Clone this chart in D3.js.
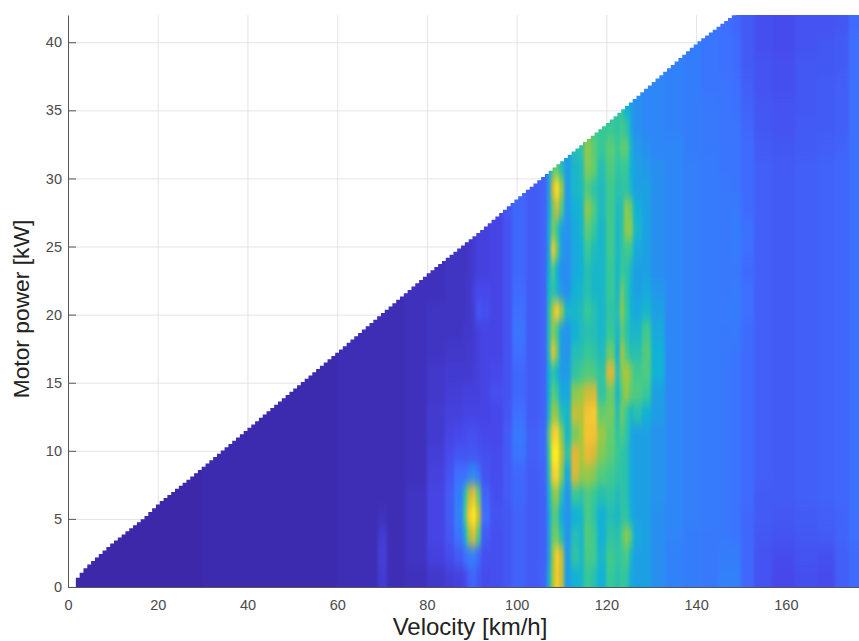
<!DOCTYPE html>
<html>
<head>
<meta charset="utf-8">
<script src="https://cdn.jsdelivr.net/npm/d3@7"></script>
<style>
  html, body { margin: 0; padding: 0; background: #fff; overflow: hidden; }
  text { font-family: "Liberation Sans", Arial, sans-serif; }
</style>
</head>
<body>
<script>
// velocity / power heat map (0-100 colour scale)

// cell edges
var velocityEdges = [0,30,50,60,67,69,71,75,80,84,86,88,89,90,91,92,94,97,99,102,105,106.7,107.7,108.5,109.5,110.5,112,114,115,116.5,118,120,122,123,124,125,126,128,130,133,137,141,145,148,150,153,157,162,167,171,174,177];
var powerEdges = [0,1.5,3,4.5,6,7.5,9,10.5,12,13.5,15,16.5,18,19.5,21,22.5,24,25.5,27,28.5,30,31.5,33,34.5,36,37.5,39,40.5,42];

// one list per velocity column, low power first
var heat = [
  [0,0,0,0,0,0,0, 0,0,0,0,0,0,0, 0,0,0,0,0,0,0, 0,0,0,0,0,0,0],
  [1,1,1,1,1,1,1, 1,1,1,1,1,1,1, 1,1,1,1,1,1,1, 1,1,1,1,1,1,1],
  [1,1,1,1,1,1,1, 1,1,1,1,1,1,1, 1,1,1,1,1,1,1, 1,1,1,1,1,1,1],
  [2,2,2,2,2,2,2, 2,2,2,2,2,2,2, 2,2,2,2,2,2,2, 2,2,2,2,2,2,2],
  [2,2,2,2,2,2,2, 2,2,2,2,2,2,2, 2,2,2,2,2,2,2, 2,2,2,2,2,2,2],
  [6,7,6,3,2,2,2, 2,2,2,2,2,2,2, 2,2,2,2,2,2,2, 2,2,2,2,2,2,2],
  [2,2,2,2,2,2,2, 2,2,2,2,2,2,2, 2,2,2,2,2,2,2, 2,2,2,2,2,2,2],
  [3,4,4,4,4,3,3, 3,3,3,3,3,3,3, 3,3,3,3,3,3,3, 3,3,3,3,3,3,3],
  [5,8,9,9,9,8,7, 6,6,5,5,4,4,4, 3,3,3,3,3,3,3, 3,3,3,3,3,3,3],
  [7,11,14,15,15,13,11, 9,8,7,6,5,4,4, 4,4,4,4,4,4,4, 4,4,4,4,4,4,4],
  [8,15,22,28,26,20,14, 10,8,7,6,5,4,4, 4,4,4,4,4,4,4, 4,4,4,4,4,4,4],
  [10,20,38,52,46,20,13, 11,9,8,6,5,5,4, 4,4,4,4,4,4,4, 4,4,4,4,4,4,4],
  [16,26,68,88,74,28,14, 12,9,8,6,6,5,5, 5,5,5,5,5,5,5, 5,5,5,5,5,5,5],
  [18,28,82,97,85,32,14, 12,9,8,7,6,6,7, 8,6,6,6,6,6,6, 6,6,6,6,6,6,6],
  [14,18,54,74,58,22,13, 11,9,8,8,8,8,14, 10,8,8,8,8,8,8, 8,8,8,8,8,8,8],
  [11,12,15,20,17,13,12, 10,9,9,9,9,9,12, 10,8,8,8,8,8,8, 8,8,8,8,8,8,8],
  [12,12,12,13,12,11,11, 10,10,12,10,9,9,9, 9,9,9,9,9,9,9, 9,9,9,9,9,9,9],
  [14,14,14,14,15,15,15, 15,14,13,13,13,13,13, 13,13,13,13,14,14,14, 14,14,14,14,14,14,14],
  [17,17,17,17,18,18,22, 24,20,18,18,20,22,20, 19,18,18,18,18,18,18, 18,18,18,18,18,18,18],
  [15,15,15,15,15,15,16, 16,15,15,15,15,15,15, 15,15,15,15,15,15,15, 15,15,15,15,15,15,15],
  [17,16,16,16,16,17,18, 18,17,17,17,17,17,17, 17,17,17,17,17,17,17, 17,17,17,17,17,17,17],
  [40,36,35,36,40,45,50, 55,42,40,40,45,45,45, 42,40,38,38,36,36,36, 36,36,36,36,36,36,36],
  [70,68,60,55,62,88,96, 88,68,58,48,85,65,72, 48,55,88,62,60,78,55, 45,45,45,45,45,45,45],
  [88,90,62,55,68,92,98, 92,65,50,42,62,52,90, 42,40,62,50,78,94,60, 45,45,45,45,45,45,45],
  [75,75,45,38,45,65,75, 65,45,38,35,35,36,68, 34,32,36,36,55,68,45, 40,40,40,40,40,40,40],
  [35,35,33,33,33,38,48, 42,42,38,35,33,33,42, 32,32,32,33,34,35,35, 35,35,35,35,35,35,35],
  [40,48,45,40,50,78,80, 62,74,65,48,45,40,42, 40,38,38,38,40,42,42, 45,45,45,45,45,45,45],
  [42,42,42,42,48,66,70, 70,72,68,52,46,44,44, 42,40,40,42,42,44,45, 48,48,48,48,48,48,48],
  [50,54,56,54,55,68,82, 86,86,76,56,50,46,50, 46,46,50,58,66,55,64, 66,58,58,58,58,58,58],
  [46,52,52,48,50,64,78, 85,88,78,54,48,45,46, 42,42,44,50,55,48,60, 58,52,52,52,52,52,52],
  [40,42,40,40,46,56,64, 68,60,48,48,44,42,42, 42,42,42,42,44,44,46, 50,50,50,50,50,50,50],
  [50,52,48,45,48,52,58, 60,62,60,78,60,50,48, 50,50,52,52,52,52,55, 58,50,50,50,50,50,50],
  [46,48,46,42,44,48,50, 48,45,42,45,40,42,45, 42,42,42,42,44,46,48, 50,48,48,48,48,48,48],
  [50,50,54,48,48,48,48, 56,62,58,65,70,58,66, 62,50,48,48,46,48,50, 58,52,48,48,48,48,48],
  [48,54,66,48,46,46,46, 48,50,68,70,54,48,50, 48,48,52,66,66,48,50, 58,48,40,40,40,40,40],
  [38,42,55,40,38,38,38, 38,42,58,62,45,42,40, 40,42,50,65,60,42,40, 42,38,36,36,36,36,36],
  [36,36,38,36,36,36,36, 36,46,55,52,46,42,38, 36,36,38,42,40,36,36, 34,32,32,32,32,32,32],
  [36,36,36,36,36,36,36, 36,40,50,55,56,52,42, 38,36,36,36,36,36,34, 32,30,30,30,30,30,30],
  [32,32,32,32,33,33,33, 33,35,36,40,40,38,36, 34,32,32,32,32,32,32, 30,30,30,30,30,30,30],
  [28,28,29,30,30,30,30, 30,30,30,30,30,30,30, 30,30,30,30,30,30,30, 30,28,28,28,28,28,28],
  [26,26,26,27,27,27,27, 27,27,27,27,27,27,27, 27,27,27,27,27,27,27, 26,26,26,26,26,26,26],
  [24,24,24,25,25,25,25, 25,25,25,25,25,25,25, 25,25,25,25,25,25,25, 24,24,24,23,23,23,23],
  [28,26,24,24,24,24,24, 24,24,24,24,24,24,25, 24,24,24,24,24,24,23, 23,22,22,22,21,21,20],
  [27,26,23,22,22,22,22, 22,22,22,22,23,25,26, 25,24,25,26,25,23,22, 22,22,21,20,19,19,18],
  [18,18,18,18,19,19,19, 19,19,19,19,19,19,20, 20,19,20,21,19,19,19, 19,18,17,16,15,15,15],
  [13,13,14,15,15,16,16, 16,16,16,16,16,16,16, 16,16,16,16,16,16,16, 15,14,14,13,13,12,12],
  [10,11,13,14,15,15,15, 15,15,15,15,15,15,15, 15,15,15,15,15,15,15, 14,13,13,12,12,11,11],
  [12,13,14,15,16,16,16, 16,16,16,16,16,16,16, 16,16,16,16,16,16,16, 15,15,14,14,14,13,13],
  [11,12,15,16,17,17,17, 17,17,17,17,17,17,17, 17,17,17,17,17,17,17, 16,15,15,15,14,14,13],
  [16,16,17,17,18,18,18, 18,18,18,18,18,18,18, 18,18,18,18,18,18,18, 17,16,16,16,15,15,14],
  [19,19,20,21,21,21,21, 21,21,21,21,21,21,21, 21,21,21,21,21,21,21, 21,21,21,21,20,20,19]
];

// upper edge of the filled area, read at a few places
var limitV = [0.9,1.6,2.2,3.8,9.4,16.7,20,26.5,60.6,80.2,91.8,100,120,140,148,177];
var limitP = [0,0.6,0.9,1.5,3.2,5.1,6.2,7.9,17.5,23.1,26.2,28.6,34.1,40,42,42];

var xTicks = [0,20,40,60,80,100,120,140,160];
var yTicks = [0,5,10,15,20,25,30,35,40];

var width = 859, height = 641;

var x = d3.scaleLinear().domain([0, 176.3]).range([68, 859]);
var y = d3.scaleLinear().domain([0, 42]).range([587, 15]);

// parula stops
var color = d3.scaleLinear()
  .domain([0,10,20,30,40,50,60,70,80,90,100])
  .range(['#3c28a8','#4747eb','#3e6fff','#2e87f7','#12b1d6','#37c897','#66cc6b','#abc739','#e6b537','#fccf30','#f9fb15']);

var svg = d3.select('body').append('svg')
  .attr('width', width)
  .attr('height', height)
  .style('display', 'block');

var defs = svg.append('defs');

var blur = defs.append('filter')
  .attr('id', 'soft')
  .attr('filterUnits', 'userSpaceOnUse')
  .attr('x', -40).attr('y', -40)
  .attr('width', width + 80).attr('height', height + 80)
  .attr('color-interpolation-filters', 'sRGB');
blur.append('feGaussianBlur').attr('stdDeviation', '1.6 6');

// stepped edge of the data grid
var limit = d3.scaleLinear().domain(limitV).range(limitP);
var stepV = d3.range(0.9, 177.5, 0.85);
var edge = d3.line()
  .x(function(d) { return x(d); })
  .y(function(d) { return y(limit(d)); })
  .curve(d3.curveStepAfter);

defs.append('clipPath').attr('id', 'mask')
  .append('path')
  .attr('d', edge(stepV) + 'L' + x(177.5) + ',' + y(0) + 'L' + x(0.9) + ',' + y(0) + 'Z');

// grid
svg.append('g').attr('class', 'grid')
  .selectAll('line.v')
  .data(xTicks.slice(1))
  .enter().append('line')
  .attr('x1', function(d) { return x(d) + 0.5; })
  .attr('x2', function(d) { return x(d) + 0.5; })
  .attr('y1', y(42))
  .attr('y2', y(0))
  .attr('stroke', '#e4e4e4');

svg.select('.grid')
  .selectAll('line.h')
  .data(yTicks.slice(1))
  .enter().append('line')
  .attr('x1', x(0))
  .attr('x2', 859)
  .attr('y1', function(d) { return y(d) + 0.5; })
  .attr('y2', function(d) { return y(d) + 0.5; })
  .attr('stroke', '#e4e4e4');

// axes
var xAxis = d3.axisBottom(x).tickValues(xTicks).tickSizeInner(-8).tickSizeOuter(0).tickPadding(13);
var yAxis = d3.axisLeft(y).tickValues(yTicks).tickSizeInner(-8).tickSizeOuter(0).tickPadding(6);

var gx = svg.append('g')
  .attr('transform', 'translate(0,587)')
  .call(xAxis);
var gy = svg.append('g')
  .attr('transform', 'translate(68,0)')
  .call(yAxis);

[gx, gy].forEach(function(g) {
  g.selectAll('path, line').attr('stroke', '#555');
  g.selectAll('text')
    .attr('fill', '#4a4a4a')
    .style('font-size', '14.5px')
    .style('font-family', '"Liberation Sans", Arial, sans-serif');
});

// cells
var cells = [];
heat.forEach(function(col, i) {
  col.forEach(function(v, j) {
    cells.push({i: i, j: j, v: v});
  });
});

var nx = heat.length, ny = powerEdges.length - 1;

svg.append('g')
  .attr('clip-path', 'url(#mask)')
  .append('g')
  .attr('filter', 'url(#soft)')
  .selectAll('rect')
  .data(cells)
  .enter().append('rect')
  .attr('x', function(d) { return x(velocityEdges[d.i]) - (d.i == 0 ? 20 : 0); })
  .attr('width', function(d) { return x(velocityEdges[d.i + 1]) - x(velocityEdges[d.i]) + (d.i == 0 || d.i == nx - 1 ? 20 : 0); })
  .attr('y', function(d) { return y(powerEdges[d.j + 1]) - (d.j == ny - 1 ? 30 : 0); })
  .attr('height', function(d) { return y(powerEdges[d.j]) - y(powerEdges[d.j + 1]) + (d.j == 0 || d.j == ny - 1 ? 30 : 0); })
  .attr('fill', function(d) { return color(d.v); })
  .attr('shape-rendering', 'crispEdges');

// labels
svg.append('text')
  .attr('x', 470)
  .attr('y', 635)
  .attr('text-anchor', 'middle')
  .attr('fill', '#222')
  .style('font-size', '24px')
  .text('Velocity [km/h]');

svg.append('text')
  .attr('transform', 'translate(29,309) rotate(-90)')
  .attr('text-anchor', 'middle')
  .attr('fill', '#222')
  .style('font-size', '22.8px')
  .text('Motor power [kW]');
</script>
</body>
</html>
